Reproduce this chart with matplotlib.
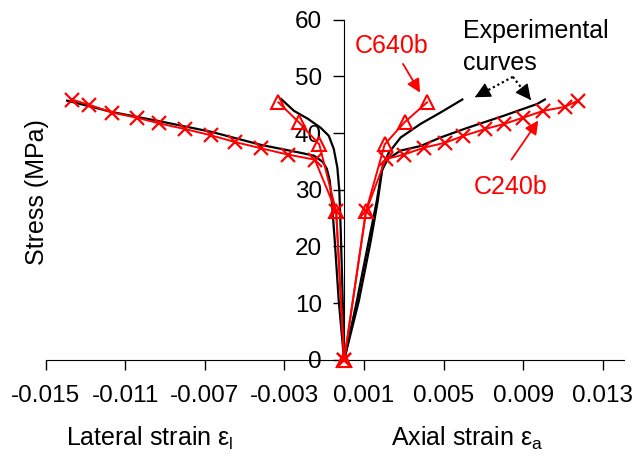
import matplotlib
matplotlib.use("Agg")
import matplotlib.pyplot as plt

plt.rcParams['font.family'] = ['Liberation Sans', 'DejaVu Sans']
plt.rcParams['mathtext.fontset'] = 'custom'
plt.rcParams['mathtext.rm'] = 'Liberation Sans'

# C240b model (crosses)
c240_lat_strain = [-0.0137, -0.01283, -0.01167, -0.01042, -0.0093, -0.008, -0.0067,
                   -0.00547, -0.00417, -0.00283, -0.00147, -0.0004, 0.0]
c240_lat_stress = [45.9, 45.0, 43.6, 42.7, 41.7, 40.7, 39.6, 38.4, 37.3, 36.2, 35.3, 26.2, 0.0]
c240_ax_strain = [0.0, 0.0011, 0.00209, 0.003, 0.004, 0.00509, 0.006, 0.00709,
                  0.00804, 0.009, 0.01, 0.01109, 0.01175]
c240_ax_stress = [0.0, 26.2, 35.4, 36.2, 37.4, 38.3, 39.5, 40.7, 41.6, 42.7, 43.9, 44.6, 45.7]

# C640b model (triangles)
c640_lat_strain = [-0.0033, -0.00228, -0.00125, -0.0004, 0.0]
c640_lat_stress = [45.4, 41.9, 38.0, 26.2, 0.0]
c640_ax_strain = [0.0, 0.0011, 0.00204, 0.00304, 0.00417]
c640_ax_stress = [0.0, 26.2, 38.0, 41.9, 45.4]

# experimental curves
exp240_lat_strain = [-0.01392, -0.01167, -0.00917, -0.00667, -0.00417, -0.00217, -0.00152,
                     -0.00107, -0.00087, -0.00072, -0.00062, -0.00047, -0.00027, 0.0]
exp240_lat_stress = [45.7, 43.7, 42.0, 40.2, 37.9, 36.5, 36.0, 34.9, 33.7, 31.6, 28.0, 21.0, 10.4, 0.0]
exp640_lat_strain = [-0.00317, -0.00252, -0.00182, -0.00117, -0.00077, -0.00052, -0.00034,
                     -0.00024, -0.00017, -0.00007, 0.0]
exp640_lat_stress = [46.0, 43.9, 42.5, 40.9, 39.5, 37.2, 33.9, 29.8, 22.8, 10.4, 0.0]
exp240_ax_strain = [0.0, 0.00064, 0.00124, 0.00164, 0.00189, 0.00219, 0.00284, 0.00384,
                    0.00484, 0.00619, 0.00799, 0.00969, 0.01009]
exp240_ax_stress = [0.0, 10.4, 21.0, 28.0, 33.3, 35.4, 36.9, 37.7, 39.2, 40.9, 43.0, 45.1, 45.9]
exp640_ax_strain = [0.0, 0.00074, 0.00134, 0.00169, 0.00194, 0.00224, 0.00284, 0.00384,
                    0.00484, 0.00594]
exp640_ax_stress = [0.0, 10.4, 21.0, 28.0, 34.2, 36.5, 39.2, 41.6, 43.6, 45.9]

x_ticks = [-0.015, -0.011, -0.007, -0.003, 0.001, 0.005, 0.009, 0.013]
y_ticks = [0, 10, 20, 30, 40, 50, 60]

RED = '#ff0000'

fig = plt.figure(figsize=(6.37, 4.57), dpi=100)
ax = fig.add_axes([0.0717, 0.2123, 0.9086, 0.745])

# black experimental curves first
for xs, ys in [(exp240_lat_strain, exp240_lat_stress), (exp640_lat_strain, exp640_lat_stress),
               (exp240_ax_strain, exp240_ax_stress), (exp640_ax_strain, exp640_ax_stress)]:
    ax.plot(xs, ys, color='black', lw=1.6, zorder=2)

for xs, ys in [(c240_lat_strain, c240_lat_stress), (c240_ax_strain, c240_ax_stress)]:
    ax.plot(xs, ys, color=RED, lw=1.4, marker='x', ms=10, mew=1.6, zorder=3, clip_on=False)
for xs, ys in [(c640_lat_strain, c640_lat_stress), (c640_ax_strain, c640_ax_stress)]:
    ax.plot(xs, ys, color=RED, lw=1.4, marker='^', ms=10, mew=1.5, mfc='none',
            zorder=3, clip_on=False)

ax.set_xlim(-0.015, 0.01409)
ax.set_ylim(0, 60)
ax.set_xticks(x_ticks)
ax.set_xticklabels(['%.3f' % v for v in x_ticks])
ax.set_yticks(y_ticks)

ax.spines['top'].set_visible(False)
ax.spines['right'].set_visible(False)
ax.spines['left'].set_position(('data', 0))
ax.spines['left'].set_zorder(1)
ax.tick_params(axis='x', direction='out', length=7, width=1, pad=11, labelsize=17.5)
ax.tick_params(axis='y', direction='out', length=8, width=1, pad=8, labelsize=17.5)

# annotations
ax.text(0.0024, 55.3, 'C640b', color=RED, fontsize=18, ha='center', va='center')
ax.annotate('', xy=(0.00389, 46.7), xytext=(0.00289, 52.6),
            arrowprops=dict(arrowstyle='-|>', color=RED, lw=1.3, mutation_scale=20))
ax.text(0.00838, 30.5, 'C240b', color=RED, fontsize=18, ha='center', va='center')
ax.annotate('', xy=(0.00984, 42.6), xytext=(0.00833, 34.9),
            arrowprops=dict(arrowstyle='-|>', color=RED, lw=1.3, mutation_scale=20))

ax.text(0.00597, 56.7, 'Experimental', color='black', fontsize=18, ha='left', va='baseline')
ax.text(0.00597, 51.1, 'curves', color='black', fontsize=18, ha='left', va='baseline')
apex = (0.00848, 49.9)
for tip in [(0.00657, 46.3), (0.00939, 45.8)]:
    # dotted shaft, then a solid filled head
    mid = (apex[0] + 0.75 * (tip[0] - apex[0]), apex[1] + 0.75 * (tip[1] - apex[1]))
    near = (apex[0] + 0.95 * (tip[0] - apex[0]), apex[1] + 0.95 * (tip[1] - apex[1]))
    ax.plot([apex[0], mid[0]], [apex[1], mid[1]], color='black', lw=1.6, ls=(0, (1, 1.3)))
    ax.annotate('', xy=tip, xytext=near,
                arrowprops=dict(arrowstyle='-|>', color='black', lw=1.0,
                                mutation_scale=24, shrinkA=0, shrinkB=0))

fig.text(37 / 637, 1 - 192 / 457, 'Stress (MPa)', rotation=90, fontsize=18,
         ha='center', va='center')
fig.text(150 / 637, 1 - 438 / 457, 'Lateral strain \u03b5$_\\mathregular{l}$', fontsize=18,
         ha='center', va='center')
fig.text(467 / 637, 1 - 438 / 457, 'Axial strain \u03b5$_\\mathregular{a}$', fontsize=18,
         ha='center', va='center')

fig.savefig('out.png', dpi=100)
